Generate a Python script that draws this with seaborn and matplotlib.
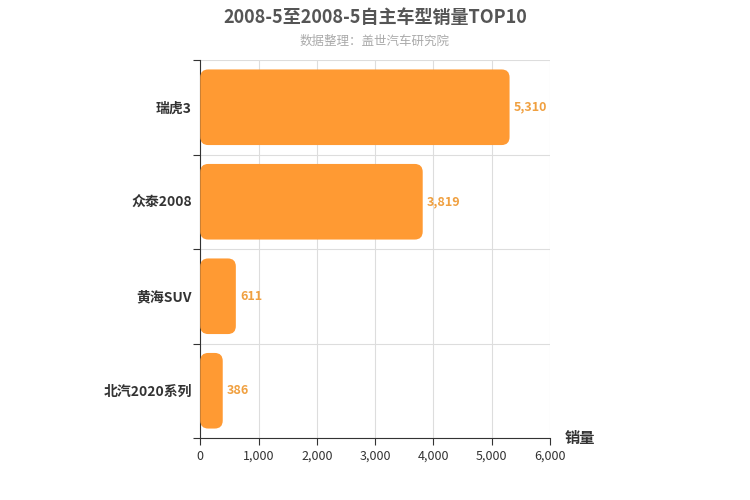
import matplotlib
matplotlib.use("Agg")
import matplotlib.pyplot as plt
from matplotlib.patches import FancyBboxPatch
import pandas as pd
import seaborn as sns

plt.rcParams["font.family"] = ["Noto Sans CJK SC", "DejaVu Sans"]

models = ["瑞虎3", "众泰2008", "黄海SUV", "北汽2020系列"]
sales = [5310, 3819, 611, 386]
xticks = [0, 1000, 2000, 3000, 4000, 5000, 6000]

df = pd.DataFrame({"model": models, "sales": sales})
color = "#ff9a33"

fig = plt.figure(figsize=(7.5, 5), dpi=100)
ax = fig.add_axes([0.267, 0.124, 0.466, 0.756])
sns.barplot(data=df, x="sales", y="model", color=color, width=0.8, ax=ax, saturation=1)

ax.set_xlim(0, 6000)
ax.set_ylim(3.5, -0.5)

# replace with rounded bars
px_x = 6000 / 350
px_y = 4 / 378
for p in list(ax.patches):
    x, y = p.get_x(), p.get_y()
    w, h = p.get_width(), p.get_height()
    p.remove()
    ax.add_patch(FancyBboxPatch((x, y), w, h, boxstyle=f"round,pad=0,rounding_size={8 * px_x}",
                                mutation_aspect=px_y / px_x, facecolor=color, edgecolor="none", zorder=3))

for i, v in enumerate(sales):
    ax.text(v + 70, i, f"{v:,}", va="center", ha="left", color="#f0a040", fontsize=9, fontweight="bold")

ax.set_xticks(xticks)
ax.set_xticklabels([f"{t:,}" for t in xticks], fontsize=9, color="#333333")
ax.set_yticks([-0.5, 0.5, 1.5, 2.5, 3.5], minor=False)
ax.set_yticklabels([])
ax.set_yticks(range(4), minor=True)
ax.set_yticklabels(models, minor=True, fontsize=10, fontweight="bold", color="#333333")
ax.tick_params(axis="y", which="minor", length=0, pad=6)
ax.tick_params(axis="y", which="major", length=5, color="#333333")
ax.tick_params(axis="x", length=5, color="#333333")
ax.grid(True, color="#dddddd", linewidth=0.8, zorder=0)
ax.set_axisbelow(True)
for s in ["top", "right"]:
    ax.spines[s].set_visible(False)
ax.spines["left"].set_color("#333333")
ax.spines["bottom"].set_color("#333333")
ax.set_xlabel("")
ax.set_ylabel("")

fig.text(0.5, 0.965, "2008-5至2008-5自主车型销量TOP10", ha="center", va="center",
         fontsize=13, fontweight="bold", color="#555555")
fig.text(0.5, 0.918, "数据整理：盖世汽车研究院", ha="center", va="center", fontsize=9, color="#aaaaaa")
fig.text(0.753, 0.123, "销量", ha="left", va="center", fontsize=11, fontweight="bold", color="#333333")

fig.savefig("out.png", dpi=100)
